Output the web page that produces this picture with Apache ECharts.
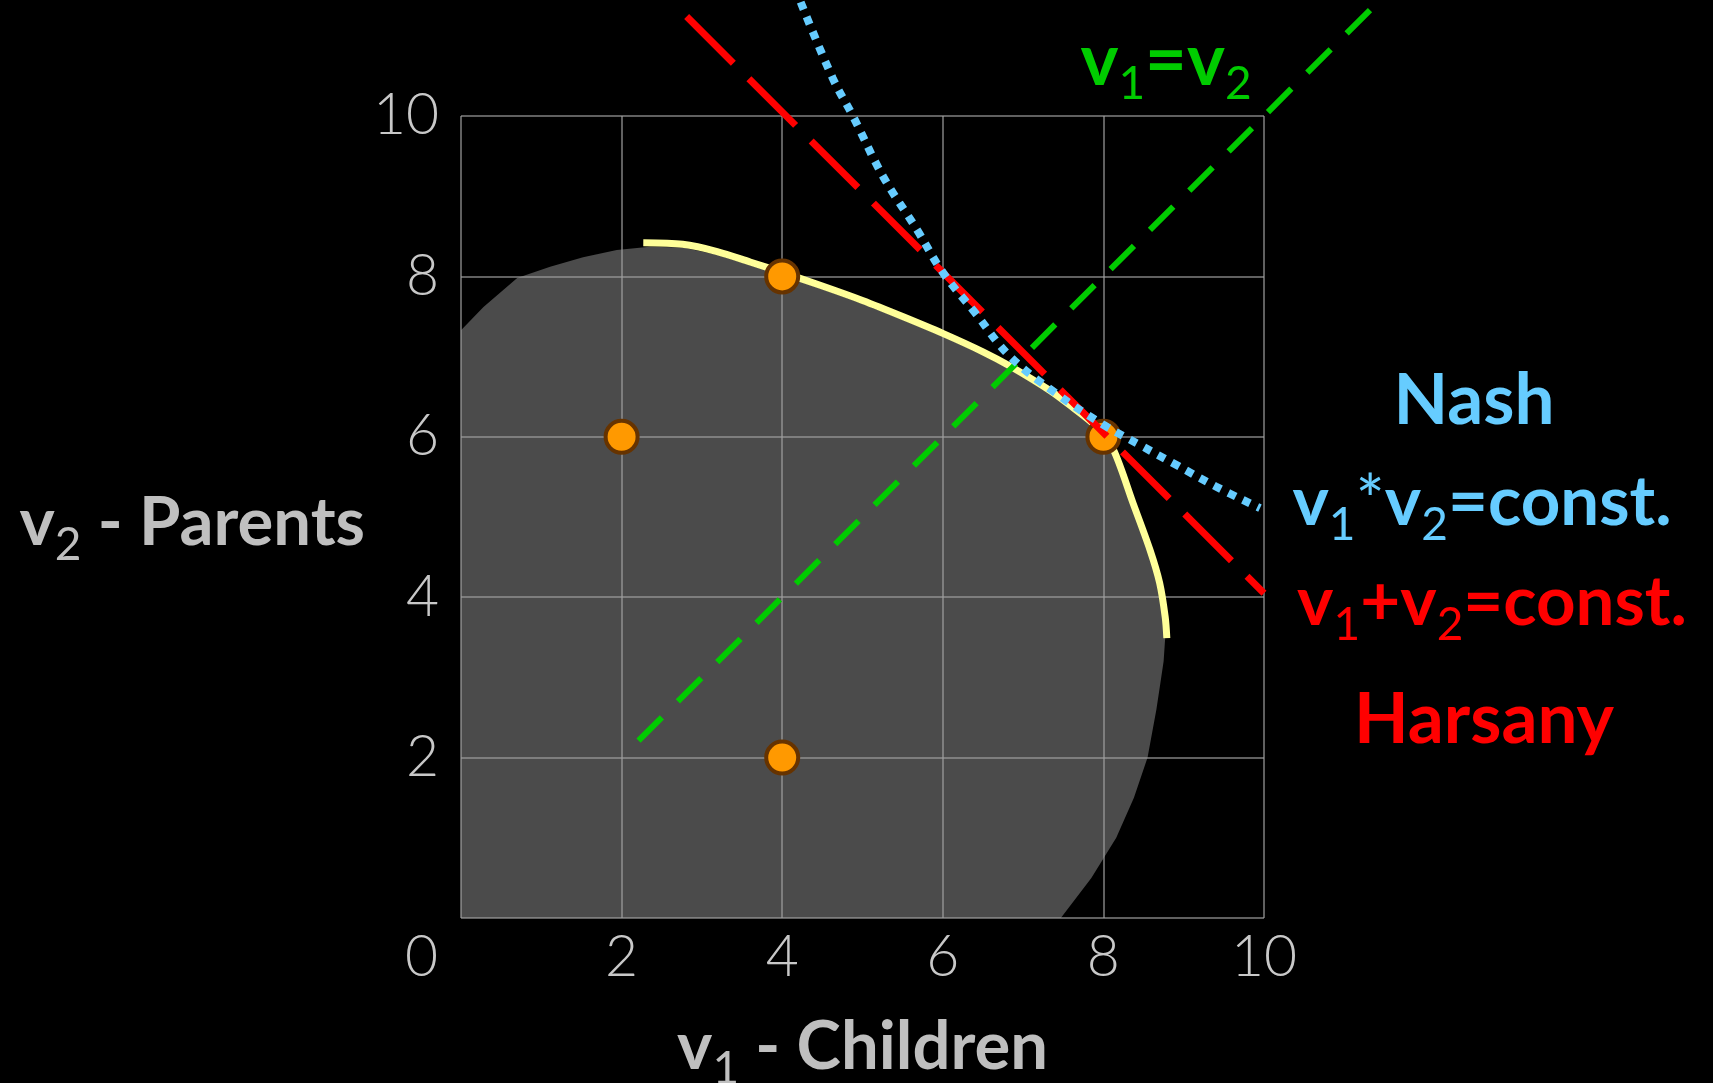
<!DOCTYPE html>
<html><head><meta charset="utf-8">
<script src="https://cdn.jsdelivr.net/npm/echarts@6/dist/echarts.min.js"></script>
<style>html,body{margin:0;padding:0;background:#000;} #c{width:1713px;height:1083px;}</style>
</head><body><div id="c"></div>
<script>
// ---- data ----
const axisMin = 0, axisMax = 10, axisStep = 2;
const outcomes = [[2, 6], [4, 8], [8, 6], [4, 2]];
const paretoFrontier = [
  [2.27, 8.42], [2.76, 8.40], [3.19, 8.31], [3.6, 8.18], [4.0, 8.05], [4.5, 7.88],
  [5.0, 7.70], [5.5, 7.50], [6.0, 7.29], [6.5, 7.06], [6.84, 6.88], [7.33, 6.58],
  [7.6, 6.38], [7.92, 6.12], [8.12, 5.85], [8.37, 5.17], [8.58, 4.59], [8.70, 4.18],
  [8.77, 3.75], [8.79, 3.49]
];
const feasibleRegion = [
  [0, 0], [0, 7.33], [0.28, 7.62], [0.7, 7.98], [1.11, 8.12], [1.52, 8.24], [1.94, 8.33],
  [2.35, 8.37], [2.76, 8.36], [3.19, 8.27], [3.6, 8.14], [4.0, 8.01], [4.5, 7.84], [5.0, 7.66],
  [5.5, 7.46], [6.0, 7.25], [6.5, 7.02], [6.84, 6.84], [7.33, 6.54], [7.6, 6.34], [7.92, 6.08],
  [8.12, 5.81], [8.37, 5.15], [8.58, 4.57], [8.70, 4.16], [8.75, 3.75], [8.77, 3.5],
  [8.75, 3.2], [8.72, 3.0], [8.66, 2.6], [8.55, 2.0], [8.38, 1.5], [8.16, 1.0], [7.85, 0.5],
  [7.47, 0]
];
const equalLine = [[2.2, 2.2], [11.32, 11.32]];          // v1 = v2
const harsanyLine = [[2.81, 11.24], [10, 4.05]];         // v1 + v2 = const.
const nashCurve = [
  [4.23, 11.42], [4.63, 10.47], [4.88, 10.0], [5.26, 9.24], [5.68, 8.58], [6.0, 8.05],
  [6.4, 7.55], [6.84, 7.0], [7.4, 6.55], [8.0, 6.15], [8.45, 5.9], [8.87, 5.67],
  [9.4, 5.38], [9.95, 5.11]
];
const xAxisTitle = ['v', '1', ' - Children'];
const yAxisTitle = ['v', '2', ' - Parents'];

// ---- styling ----
const FONT = 'Lato, "Open Sans", sans-serif';
const labelColor = '#c8c8c8';
const nameColor = '#bfbfbf';
const gridLine = { color: 'rgba(160,160,160,0.6)', width: 2 };

function richName(parts) {
  return '{m|' + parts[0] + '}{s|' + parts[1] + '}{m|' + parts[2] + '}';
}
const nameRich = {
  m: { fontSize: 67, fontWeight: 'bold', fontFamily: FONT, color: nameColor, lineHeight: 90, verticalAlign: 'middle' },
  s: { fontSize: 46, fontWeight: 'normal', fontFamily: FONT, color: nameColor, lineHeight: 46, verticalAlign: 'bottom' }
};

function subRich(color, size) {
  return {
    m: { fontSize: size, fontWeight: 'bold', fontFamily: FONT, fill: color, color: color, lineHeight: 90, verticalAlign: 'middle' },
    s: { fontSize: 46, fontWeight: 'normal', fontFamily: FONT, fill: color, color: color, lineHeight: 46, verticalAlign: 'bottom' },
    t: { fontSize: size, fontWeight: 'normal', fontFamily: FONT, fill: color, color: color, lineHeight: 90, verticalAlign: 'middle' }
  };
}
function textEl(x, y, text, color, rich, size) {
  const st = {
    text: text, fill: color, fontSize: size || 70, fontWeight: 'bold', fontFamily: FONT,
    align: 'center', verticalAlign: 'middle', textAlign: 'center', textVerticalAlign: 'middle'
  };
  if (rich) st.rich = rich;
  return { type: 'text', x: x, y: y, z: 10, style: st };
}

const chart = echarts.init(document.getElementById('c'), null, { renderer: 'canvas' });
chart.setOption({
  backgroundColor: '#000000',
  animation: false,
  grid: { left: 461, top: 116, width: 803, height: 802, containLabel: false, outerBoundsMode: 'none' },
  xAxis: {
    type: 'value', min: axisMin, max: axisMax, interval: axisStep, z: 2,
    axisLine: { show: false }, axisTick: { show: false },
    splitLine: { show: true, lineStyle: gridLine },
    axisLabel: {
      margin: 11, fontSize: 57, fontWeight: 300, fontFamily: FONT, color: labelColor,
      formatter: v => v === 0 ? '{z|0}' : String(v),
      rich: { z: { padding: [0, 79, 0, 0], fontSize: 57, fontWeight: 300, fontFamily: FONT, color: labelColor } }
    },
    name: richName(xAxisTitle), nameLocation: 'middle', nameGap: 84,
    nameTextStyle: { rich: nameRich }
  },
  yAxis: {
    type: 'value', min: axisMin, max: axisMax, interval: axisStep, z: 2,
    axisLine: { show: false }, axisTick: { show: false },
    splitLine: { show: true, lineStyle: gridLine },
    axisLabel: {
      margin: 22, fontSize: 57, fontWeight: 300, fontFamily: FONT, color: labelColor,
      formatter: v => v === 0 ? '' : String(v)
    },
    name: richName(yAxisTitle), nameLocation: 'middle', nameRotate: 0, nameGap: 96,
    nameTextStyle: { rich: nameRich, align: 'right', verticalAlign: 'middle', padding: [12, 0, 0, 0] }
  },
  graphic: [
    textEl(1474, 401, 'Nash', '#66ccff', null, 71),
    textEl(1482, 503, '{m|v}{s|1}{t|*}{m|v}{s|2}{m|=const.}', '#66ccff', subRich('#66ccff', 69)),
    textEl(1492, 603, '{m|v}{s|1}{m|+v}{s|2}{m|=const.}', '#ff0000', subRich('#ff0000', 69)),
    textEl(1484, 720, 'Harsany', '#ff0000', null, 71),
    textEl(1166, 62, '{m|v}{s|1}{m|=v}{s|2}', '#00cc00', subRich('#00cc00', 72))
  ],
  series: [
    {
      type: 'custom', z: 1, silent: true,
      data: feasibleRegion, encode: { x: 0, y: 1 },
      renderItem: function (params, api) {
        if (params.dataIndex !== 0) return null;
        const pts = feasibleRegion.map(p => api.coord(p));
        return { type: 'polygon', shape: { points: pts }, style: { fill: '#4b4b4b' } };
      }
    },
    {
      type: 'line', z: 3, data: paretoFrontier, smooth: 0.3, showSymbol: false, silent: true,
      lineStyle: { color: '#ffff99', width: 7 }
    },
    {
      type: 'scatter', z: 4, data: outcomes, symbol: 'circle', symbolSize: 32, silent: true,
      itemStyle: { color: '#ff9900', borderColor: '#663300', borderWidth: 4, opacity: 1 }
    },
    {
      type: 'custom', z: 5, silent: true, clip: false,
      data: equalLine, encode: { x: 0, y: 1 },
      renderItem: function (params, api) {
        if (params.dataIndex !== 0) return null;
        const pts = equalLine.map(p => api.coord(p)).reverse();
        return {
          type: 'polyline', shape: { points: pts },
          style: { stroke: '#00cc00', lineWidth: 6, lineDash: [33, 22.6], lineCap: 'butt', fill: null }
        };
      }
    },
    {
      type: 'line', z: 5, data: harsanyLine, showSymbol: false, clip: false, silent: true,
      lineStyle: { color: '#ff0000', width: 7, type: [66, 22], cap: 'butt' }
    },
    {
      type: 'line', z: 6, data: nashCurve, smooth: 0.4, showSymbol: false, clip: false, silent: true,
      lineStyle: { color: '#66ccff', width: 8, type: [8, 8], cap: 'butt' }
    }
  ]
});
</script>
</body></html>
